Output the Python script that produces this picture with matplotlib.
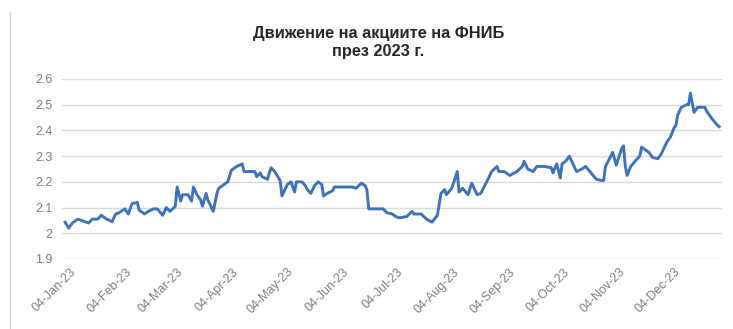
import matplotlib
matplotlib.use("Agg")
import matplotlib.pyplot as plt
import matplotlib.dates as mdates
import matplotlib.transforms as mtransforms
from matplotlib.lines import Line2D
import pandas as pd

# days after 04-Jan-2023 and closing price (BGN)
day_offsets = [
    0, 2, 4, 7, 9, 13, 15, 18, 20, 23, 26, 28, 30, 33, 35, 37, 40, 41, 44, 46,
    49, 51, 54, 56, 58, 61, 62, 64, 65, 68, 70, 71, 73, 75, 76, 78, 79, 81, 82, 84,
    85, 87, 90, 92, 95, 98, 99, 102, 105, 106, 108, 109, 112, 113, 114, 116, 119, 120, 123, 125,
    127, 128, 131, 133, 134, 136, 138, 140, 142, 143, 145, 148, 149, 152, 156, 159, 161, 164, 166, 167,
    168, 170, 176, 178, 181, 183, 185, 189, 192, 193, 197, 200, 203, 206, 208, 210, 211, 214, 217, 218,
    220, 223, 225, 228, 230, 234, 236, 239, 240, 243, 246, 250, 253, 254, 256, 259, 261, 265, 269, 270,
    272, 273, 274, 275, 277, 279, 281, 283, 286, 288, 291, 294, 297, 298, 299, 302, 303, 305, 308, 309,
    310, 311, 313, 316, 318, 319, 322, 323, 325, 328, 330, 333, 335, 337, 338, 339, 341, 344, 345, 346,
    348, 350, 352, 354, 355, 358, 361, 362,
]
prices = [
    2.043, 2.02, 2.04, 2.055, 2.05, 2.04, 2.055, 2.055, 2.07, 2.055, 2.045, 2.075, 2.08, 2.095, 2.075, 2.115, 2.12, 2.09, 2.075, 2.085,
    2.095, 2.095, 2.07, 2.10, 2.085, 2.105, 2.18, 2.125, 2.15, 2.15, 2.125, 2.18, 2.15, 2.13, 2.105, 2.155, 2.13, 2.10, 2.085, 2.155,
    2.175, 2.185, 2.20, 2.245, 2.26, 2.27, 2.24, 2.24, 2.24, 2.22, 2.235, 2.22, 2.21, 2.235, 2.255, 2.24, 2.205, 2.145, 2.19, 2.20,
    2.16, 2.20, 2.20, 2.185, 2.17, 2.155, 2.185, 2.20, 2.19, 2.145, 2.155, 2.165, 2.18, 2.18, 2.18, 2.18, 2.175, 2.195, 2.185, 2.17,
    2.095, 2.095, 2.095, 2.08, 2.075, 2.065, 2.06, 2.065, 2.085, 2.075, 2.075, 2.055, 2.043, 2.07, 2.155, 2.17, 2.15, 2.175, 2.24, 2.16,
    2.175, 2.15, 2.195, 2.15, 2.155, 2.21, 2.24, 2.26, 2.24, 2.24, 2.225, 2.24, 2.26, 2.28, 2.25, 2.24, 2.26, 2.26, 2.255, 2.235,
    2.27, 2.245, 2.215, 2.27, 2.28, 2.30, 2.27, 2.24, 2.25, 2.26, 2.235, 2.21, 2.205, 2.205, 2.26, 2.30, 2.315, 2.265, 2.33, 2.34,
    2.26, 2.225, 2.26, 2.285, 2.30, 2.335, 2.32, 2.315, 2.295, 2.29, 2.31, 2.355, 2.375, 2.41, 2.42, 2.46, 2.49, 2.50, 2.50, 2.545,
    2.47, 2.49, 2.49, 2.49, 2.475, 2.445, 2.42, 2.415,
]
y_ticks = [1.9, 2.0, 2.1, 2.2, 2.3, 2.4, 2.5, 2.6]
y_labels = ["1.9", "2", "2.1", "2.2", "2.3", "2.4", "2.5", "2.6"]
title = "Движение на акциите на ФНИБ\nпрез 2023 г."

start = pd.Timestamp("2023-01-04")
dates = [start + pd.Timedelta(days=d) for d in day_offsets]
tick_dates = pd.date_range("2023-01-04", periods=12, freq=pd.DateOffset(months=1))

plt.rcParams["font.family"] = ["Liberation Sans", "DejaVu Sans"]

fig = plt.figure(figsize=(7.33, 3.29), dpi=100)
ax = fig.add_axes([0.0846, 0.2128, 0.9004, 0.5471])

ax.plot(dates, prices, color="#3f72bb", linewidth=2.1, solid_joinstyle="round")

ax.set_ylim(1.9, 2.6)
ax.set_xlim(start - pd.Timedelta(days=1.7), start + pd.Timedelta(days=363.5))
ax.set_yticks(y_ticks)
ax.set_yticklabels(y_labels)
ax.set_xticks(tick_dates)
ax.xaxis.set_major_formatter(mdates.DateFormatter("%d-%b-%y"))

ax.grid(axis="y", color="#d9d9d9", linewidth=1.0)
ax.set_axisbelow(True)
for s in ax.spines.values():
    s.set_visible(False)
ax.tick_params(axis="both", length=0, colors="#7f7f7f", labelsize=9)
ax.tick_params(axis="y", pad=7)
ax.tick_params(axis="x", pad=5)

shift = mtransforms.ScaledTranslation(5 / 100, 0, fig.dpi_scale_trans)
for lbl in ax.get_xticklabels():
    lbl.set_rotation(45)
    lbl.set_ha("right")
    lbl.set_va("top")
    lbl.set_rotation_mode("anchor")
    lbl.set_transform(lbl.get_transform() + shift)

fig.text(0.516, 0.872, title, ha="center", va="center", fontsize=11.8,
         fontweight="bold", color="#262626", linespacing=1.25)

fig.add_artist(Line2D([10 / 733, 10 / 733], [0, 0.965], transform=fig.transFigure,
                      color="#d0d0d0", linewidth=1.0))

fig.savefig("out.png", dpi=100)
